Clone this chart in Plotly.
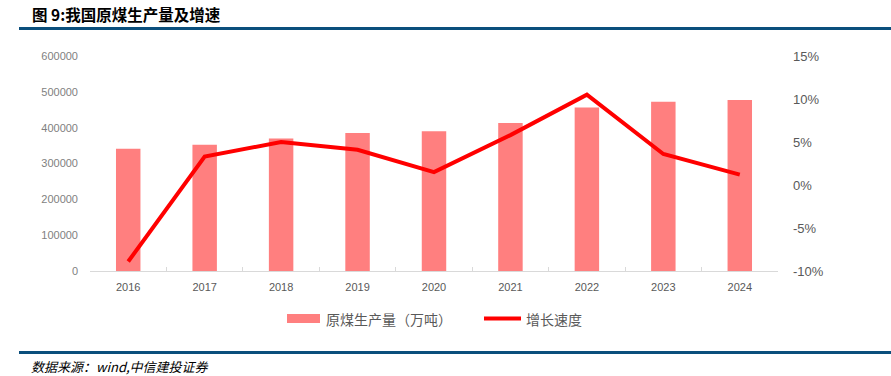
import plotly.graph_objects as go

years = ["2016", "2017", "2018", "2019", "2020", "2021", "2022", "2023", "2024"]
output = [341000, 352000, 370000, 385000, 390000, 413000, 456000, 472000, 477000]
growth = [-8.9, 3.3, 5.0, 4.1, 1.5, 5.8, 10.5, 3.6, 1.2]
left_ticks = [0, 100000, 200000, 300000, 400000, 500000, 600000]
right_ticks = [-10, -5, 0, 5, 10, 15]
right_labels = ["-10%", "-5%", "0%", "5%", "10%", "15%"]

BAR = "#FF7F7F"
LINE = "#FF0000"
BLUE = "#0B4F7C"
CJK = "Noto Sans CJK SC"

fig = go.Figure()
fig.add_trace(go.Bar(x=years, y=output, name="原煤生产量（万吨）",
                     marker=dict(color=BAR, line=dict(width=0)), showlegend=False))
fig.add_trace(go.Scatter(x=years, y=growth, name="增长速度", yaxis="y2", mode="lines",
                         line=dict(color=LINE, width=4), showlegend=False))

L, R, T, B = 90, 778, 56, 271
W, H = 891, 376
def px(x):
    return (x - L) / (R - L)
def py(y):
    return (B - y) / (B - T)

shapes = [
    dict(type="line", xref="paper", yref="paper", x0=px(19), x1=px(891), y0=py(28.5), y1=py(28.5),
         line=dict(color=BLUE, width=3)),
    dict(type="line", xref="paper", yref="paper", x0=px(19), x1=px(891), y0=py(352.5), y1=py(352.5),
         line=dict(color=BLUE, width=3)),
    dict(type="rect", xref="paper", yref="paper", x0=px(287), x1=px(320), y0=py(323), y1=py(314),
         fillcolor=BAR, line=dict(width=0)),
    dict(type="line", xref="paper", yref="paper", x0=px(484), x1=px(521), y0=py(318.5), y1=py(318.5),
         line=dict(color=LINE, width=4)),
]
annotations = [
    dict(text="<b>图 9:我国原煤生产量及增速</b>", xref="paper", yref="paper", x=px(30), y=py(14.5),
         xanchor="left", yanchor="middle", showarrow=False, font=dict(family=CJK, size=15.5, color="#000000")),
    dict(text="<i>数据来源：wind,中信建投证券</i>", xref="paper", yref="paper", x=px(29), y=py(366),
         xanchor="left", yanchor="middle", showarrow=False, font=dict(family=CJK, size=13, color="#000000")),
    dict(text="原煤生产量（万吨）", xref="paper", yref="paper", x=px(324), y=py(318.5),
         xanchor="left", yanchor="middle", showarrow=False, font=dict(family=CJK, size=14, color="#595959")),
    dict(text="增长速度", xref="paper", yref="paper", x=px(524), y=py(318.5),
         xanchor="left", yanchor="middle", showarrow=False, font=dict(family=CJK, size=14, color="#595959")),
]

fig.update_layout(
    width=W, height=H,
    margin=dict(l=L, r=W - R, t=T, b=H - B, pad=0),
    paper_bgcolor="white", plot_bgcolor="white",
    bargap=0.68,
    showlegend=False,
    hovermode=False,
    shapes=shapes, annotations=annotations,
    xaxis=dict(type="category", showgrid=False, showline=True, linecolor="#D9D9D9", linewidth=1,
               ticks="inside", tickson="boundaries", ticklen=4, tickcolor="#D9D9D9",
               tickfont=dict(family="Liberation Sans", size=11, color="#595959"),
               ticklabelstandoff=6),
    yaxis=dict(range=[0, 600000], tickvals=left_ticks, ticktext=[str(v) for v in left_ticks],
               showgrid=False, zeroline=False, showline=False, ticks="",
               tickfont=dict(family="Liberation Sans", size=11, color="#7F7F7F"),
               ticklabelstandoff=11),
    yaxis2=dict(range=[-10, 15], overlaying="y", side="right", tickvals=right_ticks, ticktext=right_labels,
                showgrid=False, zeroline=False, showline=False, ticks="",
                tickfont=dict(family="Liberation Sans", size=13, color="#595959"),
                ticklabelstandoff=14),
)

fig.write_html("out.html", config={"displayModeBar": False},
               post_script="document.body.style.margin='0px';document.body.style.overflow='hidden';")
